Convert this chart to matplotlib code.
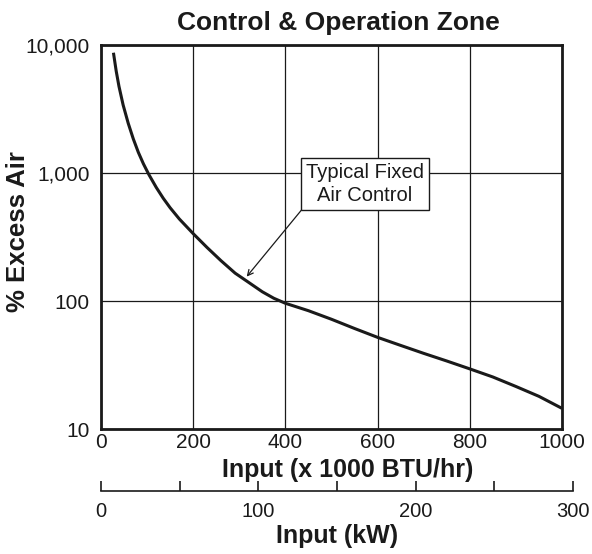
import matplotlib.pyplot as plt
from matplotlib.ticker import FixedLocator, NullLocator, FixedFormatter

plt.rcParams['font.family'] = ['Liberation Sans', 'DejaVu Sans']

# values
input_btu = [27, 33, 39, 48, 59, 70, 81, 92, 104, 120, 135, 150, 170, 200, 230, 260, 291,
             320, 350, 375, 400, 450, 500, 550, 600, 650, 700, 750, 800, 850, 900, 950, 1000]
excess_air = [8700, 6250, 4750, 3400, 2450, 1850, 1450, 1180, 970, 770, 635, 535, 437, 336,
              262, 207, 165, 140, 118, 105, 96, 84, 72, 61, 52, 45, 39, 34, 29.5, 25.5, 21.5,
              18, 14.5]

x_ticks = [0, 200, 400, 600, 800, 1000]
y_ticks = [10, 100, 1000, 10000]
y_tick_labels = ['10', '100', '1,000', '10,000']
kw_major = [0, 100, 200, 300]
kw_minor = [50, 150, 250]
KW_PER_KBTU = 0.29307
INK = '#1a1a1a'

fig = plt.figure(figsize=(5.92, 5.54), dpi=100)
ax = fig.add_axes([0.1706, 0.2256, 0.7787, 0.6932])

ax.plot(input_btu, excess_air, color=INK, lw=2.2, solid_capstyle='butt')
ax.set_yscale('log')
ax.set_xlim(0, 1000)
ax.set_ylim(10, 10000)
ax.xaxis.set_major_locator(FixedLocator(x_ticks))
ax.yaxis.set_major_locator(FixedLocator(y_ticks))
ax.yaxis.set_major_formatter(FixedFormatter(y_tick_labels))
ax.yaxis.set_minor_locator(NullLocator())
ax.grid(True, color=INK, lw=0.9)
ax.tick_params(length=0, labelsize=15, colors=INK)
ax.tick_params(axis='x', pad=3)
ax.tick_params(axis='y', pad=8)
for s in ax.spines.values():
    s.set_linewidth(2)
    s.set_color(INK)
    s.set_zorder(5)

ax.set_title('Control & Operation Zone', fontsize=19, fontweight='bold', color=INK,
             pad=11, x=0.515)
ax.set_xlabel('Input (x 1000 BTU/hr)', fontsize=18, fontweight='bold', color=INK)
ax.xaxis.set_label_coords(0.536, -0.075)
fig.text(18 / 592, 1 - 232 / 554, '% Excess Air', rotation=90, ha='center', va='center',
         fontsize=18.5, fontweight='bold', color=INK)

ax.annotate('Typical Fixed\nAir Control', xy=(316, 155), xytext=(572, 820),
            ha='center', va='center', fontsize=14.5, color=INK, linespacing=1.25,
            bbox=dict(boxstyle='square,pad=0.24', fc='white', ec=INK, lw=1),
            arrowprops=dict(arrowstyle='->', color=INK, lw=0.9, relpos=(0, 0),
                            mutation_scale=10, shrinkA=0, shrinkB=0))

# kW scale below, true conversion so it runs past the right edge
kw_width = 0.7787 * (kw_major[-1] / KW_PER_KBTU) / 1000
ax2 = fig.add_axes([0.1706, 0.1137, kw_width, 0.0001])
ax2.set_xlim(0, 300)
ax2.yaxis.set_visible(False)
for k in ['top', 'left', 'right']:
    ax2.spines[k].set_visible(False)
ax2.spines['bottom'].set_linewidth(1.2)
ax2.spines['bottom'].set_color(INK)
ax2.xaxis.set_major_locator(FixedLocator(kw_major))
ax2.xaxis.set_minor_locator(FixedLocator(kw_minor))
ax2.tick_params(axis='x', which='both', direction='in', length=7, width=1.2,
                colors=INK, labelsize=14.5, pad=8)
ax2.set_xlabel('Input (kW)', fontsize=18, fontweight='bold', color=INK, labelpad=2)
ax2.patch.set_visible(False)

fig.savefig('out.png', dpi=100)
